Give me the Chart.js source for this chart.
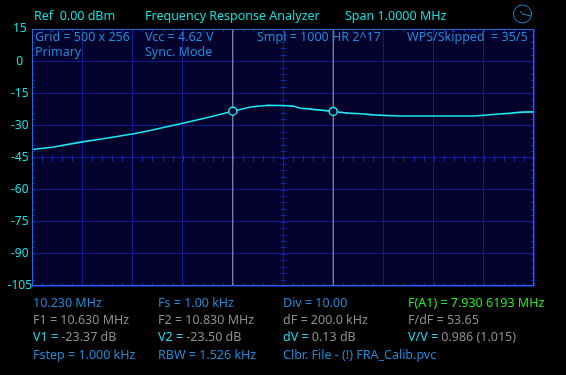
<!DOCTYPE html>
<html>
<head>
<meta charset="utf-8">
<script src="https://cdn.jsdelivr.net/npm/chart.js@4"></script>
<style>
  html, body { margin: 0; padding: 0; background: #000; }
  canvas { display: block; }
</style>
</head>
<body>
<canvas id="fra" width="566" height="375"></canvas>
<script>
// frequência (MHz) e resposta (dB)
const freqs = [10.23, 10.27, 10.33, 10.365, 10.43, 10.465, 10.53, 10.565, 10.60, 10.63,
  10.665, 10.70, 10.73, 10.75, 10.765, 10.785, 10.805, 10.83, 10.86, 10.885,
  10.91, 10.96, 11.03, 11.11, 11.155, 11.185, 11.205, 11.23];
const respostaDb = [-41.3, -40.2, -37.7, -36.5, -34.0, -32.4, -29.0, -27.1, -25.2, -23.37,
  -21.4, -20.6, -20.7, -21.0, -22.0, -22.4, -22.9, -23.50, -24.3, -24.6,
  -25.1, -25.6, -25.6, -25.6, -24.8, -24.3, -23.8, -23.7];

// cursores F1 / F2
const cursorFreqs = [10.63, 10.83];
const cursorDb = [-23.37, -23.50];

// grade
const xGrade = [10.23, 10.33, 10.43, 10.53, 10.63, 10.73, 10.83, 10.93, 11.03, 11.13, 11.23];
const yGrade = [15, 0, -15, -30, -45, -60, -75, -90, -105];

const cabecalho = [
  { t: "Ref  0.00 dBm", x: 34 },
  { t: "Frequency Response Analyzer", x: 145 },
  { t: "Span 1.0000 MHz", x: 345 }
];
const infoTela = [
  ["Grid = 500 x 256", 35, 37], ["Primary", 35, 52],
  ["Vcc = 4.62 V", 145, 37], ["Sync. Mode", 145, 52],
  ["Smpl = 1000 HR 2^17", 257, 37],
  ["WPS/Skipped  = 35/5", 407, 37]
];
// [rótulo, valor, cor rótulo]
const rodape = [
  [["10.230 MHz", "", "#1f8ad6"], ["Fs = 1.00 kHz", "", "#1f8ad6"], ["Div = 10.00", "", "#1f8ad6"], ["F(A1) = 7.930 6193 MHz", "", "#22e822"]],
  [["F1 = 10.630 MHz", "", "#8e8e8e"], ["F2 = 10.830 MHz", "", "#8e8e8e"], ["dF = 200.0 kHz", "", "#8e8e8e"], ["F/dF = 53.65", "", "#8e8e8e"]],
  [["V1 = ", "-23.37 dB", "#16dcec"], ["V2 = ", "-23.50 dB", "#16dcec"], ["dV = ", "0.13 dB", "#16dcec"], ["V/V = ", "0.986 (1.015)", "#16dcec"]],
  [["Fstep = 1.000 kHz", "", "#1f8ad6"], ["RBW = 1.526 kHz", "", "#1f8ad6"], ["Clbr. File - (!) FRA_Calib.pvc", "", "#1f8ad6"], ["", "", "#1f8ad6"]]
];
const colunasRodape = [33, 158, 283, 408];
const linhasRodape = [303, 320, 337, 355];

const fonte = '12.5px "Noto Sans"';

const fundoPlugin = {
  id: "fundo",
  beforeDraw(chart) {
    const { ctx, chartArea: a } = chart;
    ctx.save();
    ctx.fillStyle = "#000";
    ctx.fillRect(0, 0, chart.width, chart.height);
    ctx.fillStyle = "#02022c";
    ctx.fillRect(a.left, a.top, a.right - a.left, a.bottom - a.top);
    ctx.restore();
  },
  beforeDatasetsDraw(chart) {
    const { ctx, chartArea: a, scales } = chart;
    const xs = scales.x, ys = scales.y;
    ctx.save();
    ctx.strokeStyle = "#1328a8";
    ctx.lineWidth = 1;
    const cx = Math.round(xs.getPixelForValue(10.73)) + 0.5;
    const cy = Math.round(ys.getPixelForValue(-45)) + 0.5;
    ctx.beginPath();
    // marcas menores horizontais (a cada 0.02 MHz)
    for (let f = 10.23; f <= 11.2301; f += 0.02) {
      const px = Math.round(xs.getPixelForValue(f)) + 0.5;
      ctx.moveTo(px, cy - 3); ctx.lineTo(px, cy + 3);
      ctx.moveTo(px, a.top); ctx.lineTo(px, a.top + 3);
      ctx.moveTo(px, a.bottom); ctx.lineTo(px, a.bottom - 3);
    }
    // marcas menores verticais (a cada 3 dB)
    for (let v = -105; v <= 15; v += 3) {
      const py = Math.round(ys.getPixelForValue(v)) + 0.5;
      ctx.moveTo(cx - 3, py); ctx.lineTo(cx + 3, py);
      ctx.moveTo(a.left, py); ctx.lineTo(a.left + 3, py);
      ctx.moveTo(a.right, py); ctx.lineTo(a.right - 3, py);
    }
    ctx.stroke();
    ctx.restore();
  },
  afterDraw(chart) {
    const { ctx, chartArea: a } = chart;
    ctx.save();
    ctx.strokeStyle = "#1e6fd6";
    ctx.lineWidth = 1;
    ctx.strokeRect(a.left + 0.5, a.top + 0.5, a.right - a.left - 1, a.bottom - a.top - 1);

    ctx.font = fonte;
    ctx.textBaseline = "middle";
    ctx.fillStyle = "#10dede";
    cabecalho.forEach(h => ctx.fillText(h.t, h.x, 16));

    ctx.fillStyle = "#1f8ad6";
    infoTela.forEach(([t, x, y]) => ctx.fillText(t, x, y));

    rodape.forEach((linha, i) => {
      linha.forEach(([rot, val, cor], j) => {
        const x = colunasRodape[j], y = linhasRodape[i];
        ctx.fillStyle = cor;
        ctx.fillText(rot, x, y);
        if (val) {
          ctx.fillStyle = "#8e8e8e";
          ctx.fillText(val, x + ctx.measureText(rot).width, y);
        }
      });
    });

    // relógio
    ctx.strokeStyle = "#1a86d8";
    ctx.beginPath();
    ctx.arc(522.5, 14, 9, 0, Math.PI * 2);
    ctx.moveTo(522.5, 14); ctx.lineTo(531, 16);
    ctx.moveTo(522.5, 14); ctx.lineTo(520, 11);
    ctx.stroke();
    ctx.restore();
  }
};

new Chart(document.getElementById("fra"), {
  type: "line",
  data: {
    datasets: [
      {
        label: "Resposta",
        data: freqs.map((f, i) => ({ x: f, y: respostaDb[i] })),
        borderColor: "#1ae8f2",
        borderWidth: 1.6,
        pointRadius: 0,
        tension: 0,
        order: 2
      },
      {
        label: "F1",
        data: [{ x: cursorFreqs[0], y: -105 }, { x: cursorFreqs[0], y: 15 }],
        borderColor: "#a4a4b0",
        borderWidth: 1,
        pointRadius: 0,
        order: 3
      },
      {
        label: "F2",
        data: [{ x: cursorFreqs[1], y: -105 }, { x: cursorFreqs[1], y: 15 }],
        borderColor: "#a4a4b0",
        borderWidth: 1,
        pointRadius: 0,
        order: 3
      },
      {
        label: "Cursores",
        data: cursorFreqs.map((f, i) => ({ x: f, y: cursorDb[i] })),
        showLine: false,
        pointRadius: 4,
        pointBorderWidth: 1.5,
        pointBorderColor: "#1ae8f2",
        pointBackgroundColor: "#02022c",
        order: 1
      }
    ]
  },
  options: {
    responsive: false,
    animation: false,
    layout: { padding: { left: 0, right: 32, top: 29, bottom: 89 } },
    plugins: { legend: { display: false }, tooltip: { enabled: false } },
    scales: {
      x: {
        type: "linear",
        min: 10.23,
        max: 11.23,
        afterBuildTicks: s => { s.ticks = xGrade.map(v => ({ value: v })); },
        afterFit: s => { s.height = 0; },
        ticks: { display: false },
        grid: { color: "#0c1c92", drawTicks: false },
        border: { display: false }
      },
      y: {
        min: -105,
        max: 15,
        afterBuildTicks: s => { s.ticks = yGrade.map(v => ({ value: v })); },
        afterFit: s => { s.width = 32; },
        ticks: {
          color: "#10e0e8",
          font: { family: "Noto Sans", size: 12 },
          crossAlign: "center",
          padding: 0
        },
        grid: { color: "#0c1c92", drawTicks: false },
        border: { display: false }
      }
    }
  },
  plugins: [fundoPlugin]
});
</script>
</body>
</html>
